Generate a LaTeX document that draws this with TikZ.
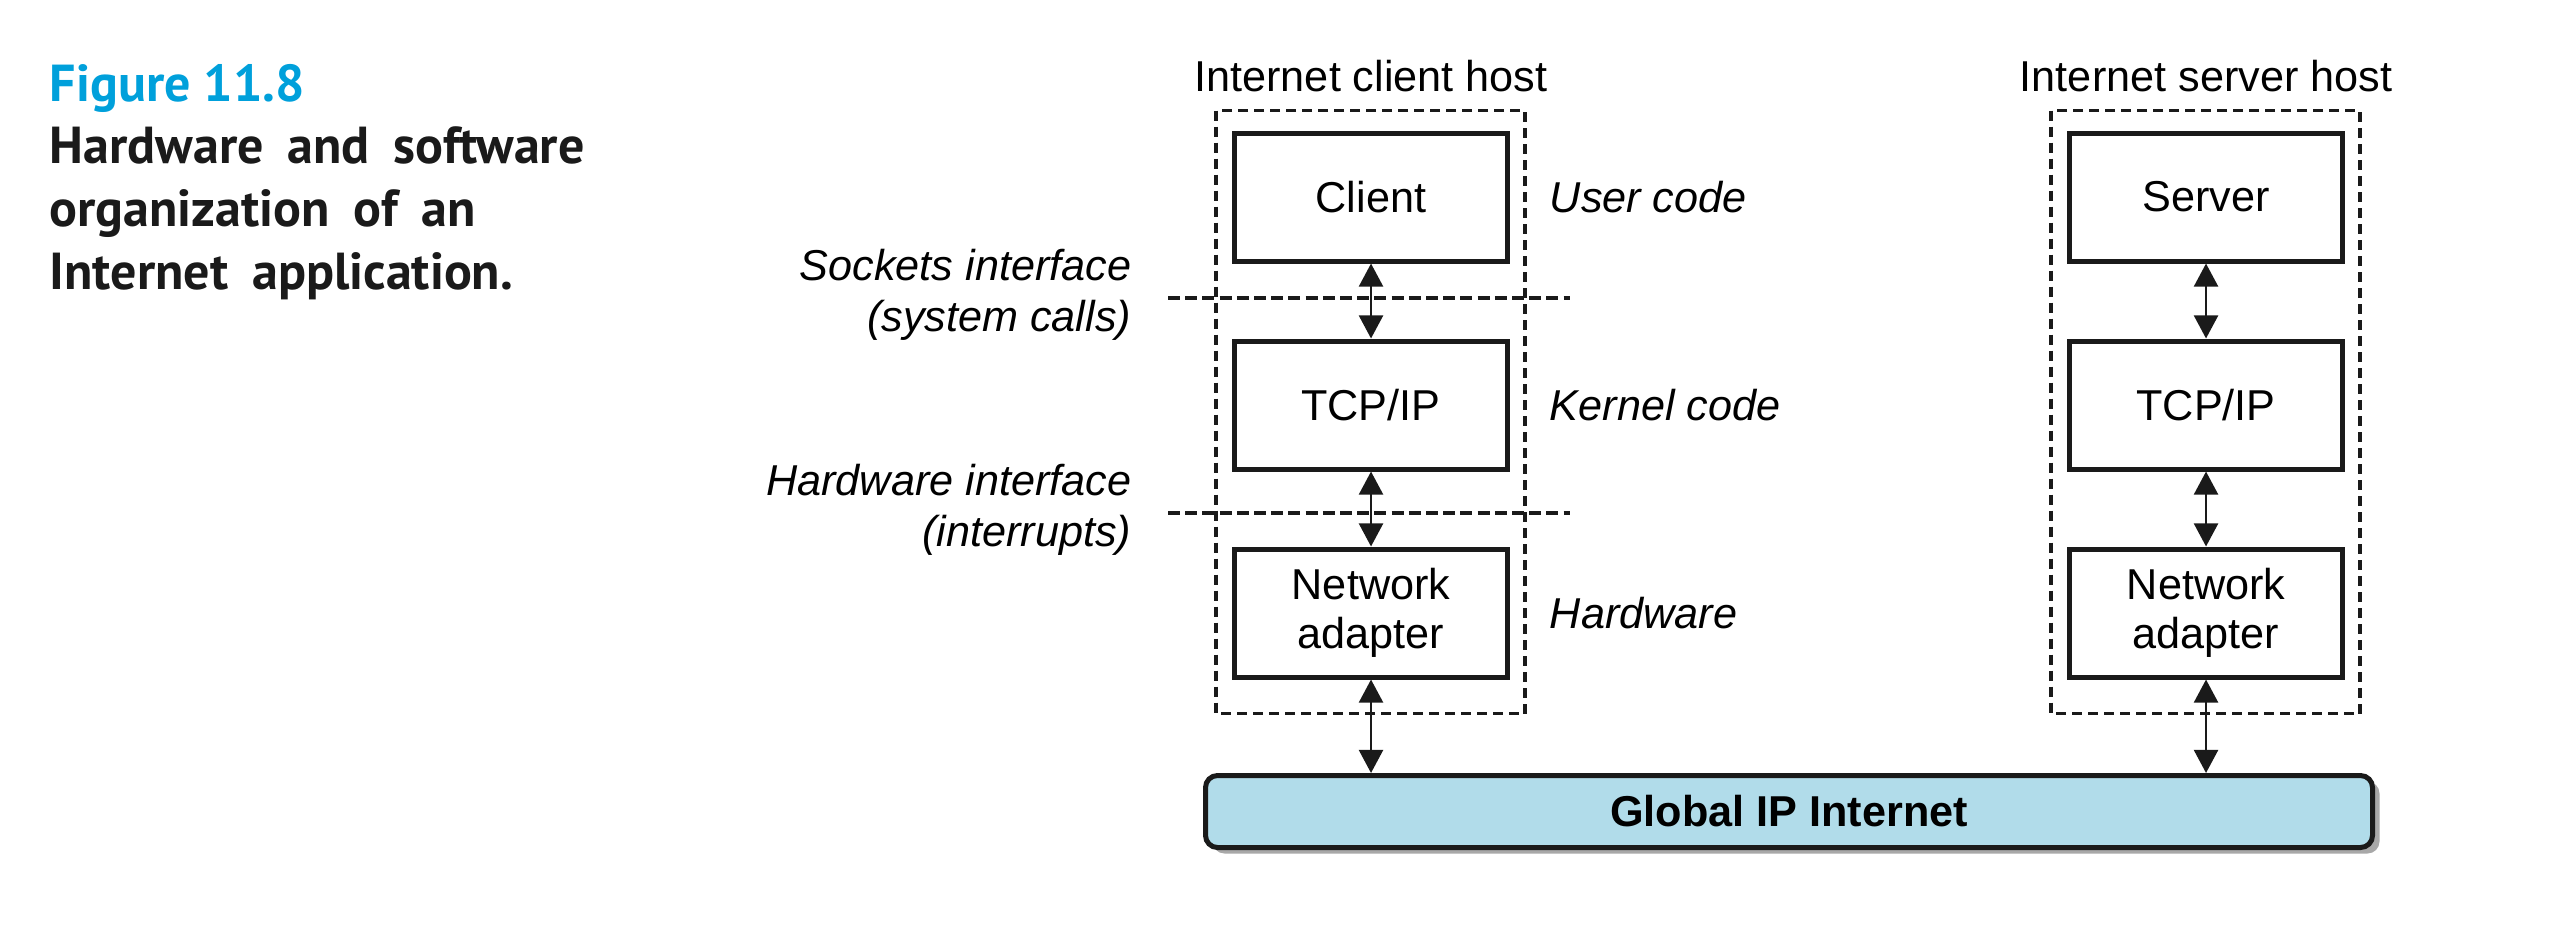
\documentclass[tikz,border=0pt]{standalone}
\usepackage{fontspec}
\setmainfont{Liberation Sans}
\newfontfamily\capfont{PT Sans}
\usepackage{tikz}
\usetikzlibrary{arrows.meta, positioning, calc, shadows}
\definecolor{Ink}{HTML}{1A1A1A}
\definecolor{FigCyan}{HTML}{00A0DB}
\definecolor{NetBlue}{HTML}{B1DCEA}
\definecolor{ShadowGray}{HTML}{A8A8A8}
\newcommand\capspacing{\spaceskip=6pt plus 1pt minus 0.5pt\relax}
\tikzset{
  layer/.style={rectangle, draw=Ink, line width=1.25pt, fill=white,
    minimum width=68.25pt, minimum height=32pt, inner sep=0pt,
    align=center, font=\fontsize{10.8}{12.2}\selectfont},
  hostbox/.style={draw=Ink, line width=0.85pt, dash pattern=on 2.5pt off 1.5pt},
  iface/.style={draw=Ink, line width=1.05pt, dash pattern=on 3pt off 1.3pt},
  link/.style={<->, >={Triangle[length=5.8pt, width=6pt]}, line width=0.7pt, draw=Ink},
  side/.style={inner sep=0pt, align=right, font=\fontsize{10.8}{12.75}\selectfont\itshape},
  hosttitle/.style={inner sep=0pt, font=\fontsize{10.8}{12.5}\selectfont},
  net/.style={rectangle, rounded corners=3pt, draw=Ink, line width=1.25pt,
    fill=NetBlue, minimum width=291.75pt, minimum height=18pt,
    font=\fontsize{10.8}{12.5}\selectfont\bfseries,
    drop shadow={shadow xshift=1.75pt, shadow yshift=-1.5pt, fill=ShadowGray, opacity=1}},
  capnum/.style={inner sep=0pt, text=FigCyan, font=\capfont\bfseries\fontsize{13}{15.7}\selectfont},
  captext/.style={inner sep=0pt, align=left, text=Ink,
    font=\capfont\bfseries\fontsize{13}{15.7}\selectfont\capspacing},
}
\begin{document}
\begin{tikzpicture}[x=0.25pt, y=0.25pt, node distance=18.75pt]
  \useasboundingbox (0,0) rectangle (2556,-934);

  % Caption
  \node[capnum, anchor=base west] (fignum) at (49,-101) {Figure 11.8};
  \node[captext, anchor=north west] (figtext) at (49,-126)
    {Hardware and software\\organization of an\\Internet application.};

  % Client host
  \node[layer] (client) at (1371,-197) {Client};
  \node[layer, below=of client] (ctcp) {TCP/IP};
  \node[layer, below=of ctcp] (cnic) {Network\\adapter};
  \draw[hostbox] ($(client.north west)+(-16,20)$) rectangle ($(cnic.south east)+(15,-34)$);
  \node[hosttitle, anchor=base] (ctitle) at (1371,-91) {Internet client host};

  % Server host
  \node[layer] (server) at (2206,-197) {Server};
  \node[layer, below=of server] (stcp) {TCP/IP};
  \node[layer, below=of stcp] (snic) {Network\\adapter};
  \draw[hostbox] ($(server.north west)+(-16,20)$) rectangle ($(snic.south east)+(15,-34)$);
  \node[hosttitle, anchor=base] (stitle) at (2206,-91) {Internet server host};

  % Network
  \node[net] (net) at (1789,-811.5) {Global IP Internet};

  % Interfaces
  \coordinate (sockL) at (1168,-298);
  \coordinate (sockR) at (1570,-298);
  \coordinate (hwL) at (1168,-513);
  \coordinate (hwR) at (1570,-513);
  \draw[iface] (sockL) -- (sockR);
  \draw[iface] (hwL) -- (hwR);
  \node[side, anchor=east] (socklbl) at (1132,-295) {Sockets interface\\(system calls)};
  \node[side, anchor=east] (hwlbl) at (1132,-510) {Hardware interface\\(interrupts)};

  % Layer names
  \node[side, anchor=west] (user) at ($(client.east)+(39,0)$) {User code};
  \node[side, anchor=west] (kernel) at ($(ctcp.east)+(39,0)$) {Kernel code};
  \node[side, anchor=west] (hw) at ($(cnic.east)+(39,0)$) {Hardware};

  % Links
  \draw[link] (client) -- (ctcp);
  \draw[link] (ctcp) -- (cnic);
  \draw[link] (cnic.south) -- (cnic.south |- net.north);
  \draw[link] (server) -- (stcp);
  \draw[link] (stcp) -- (snic);
  \draw[link] (snic.south) -- (snic.south |- net.north);
\end{tikzpicture}
\end{document}
